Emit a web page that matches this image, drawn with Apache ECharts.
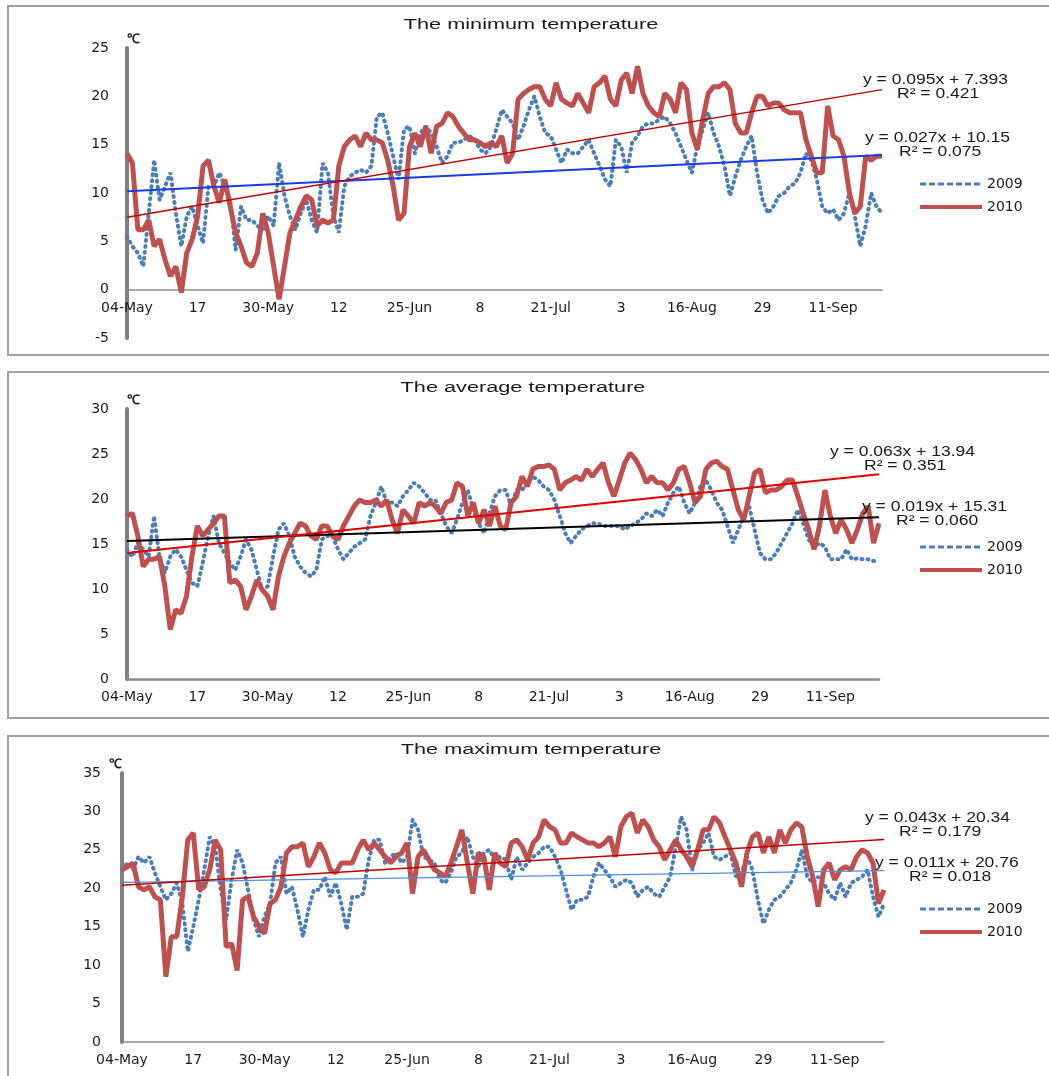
<!DOCTYPE html>
<html>
<head>
<meta charset="utf-8">
<script src="https://cdn.jsdelivr.net/npm/echarts@6/dist/echarts.min.js"></script>
<style>
html, body { margin: 0; padding: 0; background: #fff; }
#main { width: 1049px; height: 1076px; }
</style>
</head>
<body>
<div id="main"></div>
<script>
// x axis: one point per day, 04-May .. 20-Sep
var dayCount = 140;
var tickLabels = ['04-May', '17', '30-May', '12', '25-Jun', '8', '21-Jul', '3', '16-Aug', '29', '11-Sep'];
var days = [];
for (var d = 0; d < dayCount; d++) days.push(d);

// minimum temperature
var min2009 = [5.5, 4.5, 3.8, 2.4, 7.9, 13.4, 9.3, 10.7, 12.1, 7.9,
  4.5, 7.6, 8.6, 6.6, 4.8, 10.7, 10.7, 12.1, 10.7, 9.3,
  4.1, 8.6, 7.2, 7.2, 6.6, 6.2, 7.6, 6.6, 13.1, 9.7,
  7.6, 6.2, 7.9, 9.3, 7.2, 5.9, 13.1, 12.1, 7.6, 5.9,
  10.7, 11.7, 12.1, 12.4, 12.1, 12.8, 17.9, 18.3, 16.2, 13.8,
  11.4, 16.6, 16.9, 14.1, 16.2, 16.9, 16.2, 14.8, 13.1, 13.8,
  15.2, 15.2, 15.5, 15.9, 15.5, 14.5, 14.1, 14.8, 16.6, 18.6,
  17.9, 17.2, 15.5, 16.9, 18.6, 20.0, 17.9, 16.2, 15.9, 14.5,
  13.1, 14.5, 14.1, 14.1, 14.8, 15.5, 14.1, 12.8, 11.4, 10.7,
  15.5, 14.8, 12.1, 15.2, 15.9, 16.9, 17.2, 17.2, 17.6, 17.9,
  17.2, 16.2, 14.8, 13.4, 12.1, 14.8, 16.6, 18.3, 16.2, 14.8,
  12.8, 9.7, 11.7, 13.4, 14.8, 15.9, 12.1, 9.3, 7.9, 8.6,
  9.7, 10.0, 10.7, 11.0, 12.1, 14.1, 13.4, 11.4, 8.6, 7.9,
  8.3, 7.2, 7.9, 10.0, 7.6, 4.5, 6.6, 10.0, 8.6, 7.9];
var min2010 = [14.1, 13.1, 6.2, 6.2, 7.2, 4.5, 5.2, 3.1, 1.4, 2.4,
  -0.3, 3.8, 5.2, 7.6, 12.8, 13.4, 10.7, 9.0, 11.4, 8.6,
  5.9, 4.5, 2.8, 2.4, 3.8, 7.9, 5.9, 2.4, -1.0, 2.4,
  5.9, 7.2, 8.6, 9.7, 9.3, 6.6, 7.2, 6.9, 7.2, 12.8,
  14.8, 15.5, 15.9, 14.8, 16.2, 15.5, 15.5, 15.2, 13.4, 10.7,
  7.2, 7.9, 14.8, 16.2, 14.8, 16.9, 14.1, 16.9, 17.2, 18.3,
  17.9, 16.9, 16.2, 15.5, 15.5, 15.2, 14.8, 15.2, 14.8, 15.9,
  13.1, 14.1, 19.7, 20.3, 20.7, 21.0, 21.0, 19.7, 19.0, 21.4,
  19.7, 19.3, 19.0, 20.3, 19.3, 18.3, 21.0, 21.4, 22.1, 19.7,
  19.0, 21.7, 22.4, 20.3, 23.1, 20.3, 19.0, 18.3, 17.9, 20.3,
  19.7, 18.3, 21.4, 20.7, 16.2, 14.5, 17.6, 20.3, 21.0, 21.0,
  21.4, 20.7, 17.2, 16.2, 16.2, 18.3, 20.0, 20.0, 19.0, 19.3,
  19.3, 18.6, 18.3, 18.3, 18.3, 15.5, 13.8, 12.1, 12.1, 19.0,
  15.9, 15.5, 13.8, 10.0, 7.9, 8.6, 13.8, 13.4, 13.8, 13.8];

// average temperature
var avg2009 = [14.4, 13.6, 15.1, 14.4, 13.6, 18.1, 13.6, 11.8, 13.6, 14.4,
  13.6, 12.1, 10.7, 10.3, 12.9, 15.9, 18.1, 15.1, 14.0, 12.9,
  12.1, 13.6, 15.5, 14.4, 12.1, 9.9, 10.3, 13.6, 16.6, 17.3,
  15.9, 13.6, 12.5, 11.8, 11.4, 12.1, 15.5, 15.9, 15.9, 14.4,
  13.3, 14.0, 14.7, 15.1, 15.5, 18.1, 19.6, 21.4, 19.6, 19.6,
  19.2, 20.3, 21.0, 21.8, 21.4, 20.7, 19.9, 19.9, 18.4, 17.0,
  16.2, 17.7, 19.6, 21.0, 18.8, 17.3, 16.2, 18.4, 20.3, 21.0,
  21.0, 19.2, 21.0, 21.0, 21.8, 22.5, 22.1, 21.4, 21.0, 19.9,
  18.1, 16.2, 15.1, 15.9, 16.6, 17.0, 17.3, 17.3, 17.0, 17.0,
  17.0, 17.0, 16.6, 17.0, 17.3, 17.7, 18.4, 18.1, 18.8, 18.1,
  19.6, 20.7, 21.4, 19.6, 18.4, 19.6, 21.4, 22.1, 21.0, 19.6,
  18.8, 17.0, 15.1, 16.6, 18.1, 19.2, 16.6, 14.0, 13.3, 13.3,
  14.0, 15.1, 16.2, 17.3, 18.8, 17.3, 15.5, 14.7, 15.1, 14.7,
  13.3, 13.3, 13.3, 14.4, 13.3, 13.4, 13.3, 13.3, 13.1, 13.1];
var avg2010 = [18.1, 18.4, 15.9, 12.5, 13.3, 13.3, 13.6, 10.3, 5.5, 7.7,
  7.3, 9.2, 13.6, 17.0, 15.9, 16.6, 17.3, 18.1, 18.1, 10.7,
  11.0, 10.3, 7.7, 9.2, 11.0, 9.9, 9.2, 7.7, 11.4, 13.6,
  15.1, 16.2, 17.3, 17.0, 15.9, 15.5, 17.0, 17.0, 15.9, 15.5,
  17.0, 18.1, 19.2, 19.9, 19.6, 19.6, 19.9, 19.2, 19.9, 17.7,
  16.2, 18.8, 18.1, 17.3, 19.6, 19.2, 19.6, 19.2, 18.4, 19.6,
  19.9, 21.8, 21.4, 18.1, 19.6, 17.3, 18.8, 17.0, 19.2, 17.0,
  16.6, 19.6, 20.3, 22.5, 21.4, 23.3, 23.6, 23.6, 23.8, 23.3,
  21.0, 21.8, 22.1, 22.5, 22.1, 23.3, 22.5, 23.3, 24.0, 21.8,
  20.3, 22.1, 24.0, 25.1, 24.4, 23.3, 21.8, 22.5, 21.8, 21.8,
  21.0, 21.8, 23.3, 23.6, 21.8, 19.6, 20.3, 23.3, 24.0, 24.2,
  23.6, 23.3, 21.0, 18.8, 17.7, 20.3, 22.9, 23.3, 20.7, 21.0,
  21.0, 21.4, 22.1, 22.1, 20.3, 18.4, 16.6, 14.4, 17.0, 21.0,
  18.1, 16.2, 17.7, 16.6, 15.1, 16.6, 18.4, 19.2, 15.1, 17.3];

// maximum temperature
var max2009 = [22.4, 23.3, 22.4, 24.1, 23.3, 24.1, 22.0, 20.2, 18.5, 19.3,
  20.7, 18.0, 11.8, 15.0, 18.5, 22.4, 26.7, 25.4, 19.8, 15.9,
  21.1, 25.0, 23.3, 19.8, 15.9, 13.7, 16.3, 18.0, 23.3, 24.1,
  19.3, 20.2, 17.2, 13.7, 17.2, 19.8, 19.8, 21.5, 18.9, 20.7,
  18.0, 14.6, 18.9, 18.9, 19.3, 23.7, 26.3, 26.3, 23.3, 24.1,
  24.6, 23.3, 24.1, 28.9, 27.6, 24.1, 23.7, 23.3, 21.1, 20.7,
  22.0, 24.1, 24.6, 26.7, 24.1, 22.8, 24.6, 25.0, 23.7, 24.1,
  23.7, 21.1, 24.1, 22.4, 23.3, 24.1, 24.6, 25.4, 25.4, 24.1,
  22.4, 19.8, 17.2, 18.5, 18.5, 18.9, 21.5, 23.3, 22.4, 21.5,
  20.2, 20.7, 21.1, 20.7, 18.9, 19.8, 20.2, 19.3, 18.9, 20.2,
  21.5, 25.4, 29.3, 27.6, 22.4, 25.0, 25.9, 27.2, 24.1, 23.7,
  24.1, 24.6, 21.5, 22.0, 24.1, 22.4, 18.5, 15.4, 17.2, 18.5,
  18.9, 19.8, 20.7, 22.4, 25.0, 21.5, 20.7, 21.5, 20.7, 19.3,
  18.5, 20.7, 18.9, 20.7, 21.1, 21.5, 22.4, 18.9, 16.3, 18.0];
var max2010 = [22.4, 22.8, 23.3, 20.2, 19.8, 20.2, 18.9, 18.5, 8.5, 13.7,
  13.7, 18.9, 26.3, 27.2, 19.8, 20.2, 22.4, 26.3, 25.0, 12.4,
  12.8, 9.3, 18.5, 18.9, 16.3, 15.0, 14.1, 18.0, 18.5, 20.2,
  24.6, 25.4, 25.4, 25.9, 22.8, 24.1, 25.9, 24.6, 22.4, 22.0,
  23.3, 23.3, 23.3, 25.0, 26.3, 25.0, 25.9, 25.0, 24.1, 23.3,
  24.1, 24.6, 25.9, 19.3, 24.1, 25.0, 23.7, 22.4, 22.0, 21.5,
  23.3, 25.4, 27.6, 23.3, 19.3, 24.6, 24.1, 19.8, 24.6, 23.3,
  22.8, 25.9, 26.3, 25.4, 23.7, 25.9, 26.7, 28.9, 28.0, 27.6,
  25.9, 25.9, 27.2, 26.7, 26.3, 25.9, 25.9, 25.4, 25.9, 26.7,
  24.1, 28.0, 29.3, 29.8, 27.2, 28.9, 28.0, 26.3, 25.4, 23.7,
  25.0, 26.3, 25.0, 24.1, 22.8, 25.0, 27.6, 27.6, 29.3, 28.5,
  26.7, 25.0, 23.3, 20.2, 24.6, 26.7, 27.2, 24.6, 26.7, 24.6,
  27.6, 25.9, 27.6, 28.5, 28.0, 24.1, 21.5, 17.6, 22.4, 23.3,
  21.1, 22.4, 22.8, 22.4, 24.1, 25.0, 24.6, 23.3, 18.0, 19.8];

// linear trend lines as printed on the chart: [slope, intercept, R2]
var trendMin = { y2009: [0.027, 10.15, '0.075'], y2010: [0.095, 7.393, '0.421'] };
var trendAvg = { y2009: [0.019, 15.31, '0.060'], y2010: [0.063, 13.94, '0.351'] };
var trendMax = { y2009: [0.011, 20.76, '0.018'], y2010: [0.043, 20.34, '0.179'] };

var FONT = 'Liberation Sans, Arial, sans-serif';
var AXFONT = 'DejaVu Sans, Liberation Sans, sans-serif';
var BLUE = '#4a7ebb';
var RED = '#c0504d';

function trendData(t) {
  // excel numbers the days from 1
  return [[0, t[0] * 1 + t[1]], [dayCount - 1, t[0] * dayCount + t[1]]];
}

function xAxisFor(idx, off) {
  return {
    type: 'category', gridIndex: idx, data: days, boundaryGap: false,
    offset: off,
    axisLine: { onZero: false, lineStyle: { color: '#8c8c8c', width: idx == 1 ? 2.5 : 1.5 } },
    axisTick: { show: false },
    axisLabel: {
      interval: 0, margin: 11,
      color: '#1a1a1a', fontSize: 14, fontFamily: AXFONT,
      formatter: function (v, i) { return i % 13 === 0 ? (tickLabels[i / 13] || '') : ''; }
    },
    splitLine: { show: false }
  };
}

function yAxisFor(idx, mn, mx, nameAlign, margin) {
  return {
    type: 'value', gridIndex: idx, min: mn, max: mx, interval: 5,
    name: '℃', nameLocation: 'end', nameGap: 2,
    nameTextStyle: { color: '#1a1a1a', fontSize: 13, fontFamily: FONT, fontWeight: 'bold', align: nameAlign },
    axisLine: { show: true, lineStyle: { color: '#808080', width: 4 } },
    axisTick: { show: false },
    axisLabel: { margin: margin, color: '#1a1a1a', fontSize: 14, fontFamily: AXFONT },
    splitLine: { show: false }
  };
}

function dataSeries(idx, name, vals) {
  var is09 = name == '2009';
  return {
    name: name, type: 'line', xAxisIndex: idx, yAxisIndex: idx,
    data: vals, symbol: 'none', smooth: false, z: is09 ? 2 : 3,
    itemStyle: { color: is09 ? BLUE : RED },
    lineStyle: is09 ? { color: BLUE, width: 4, type: [1, 5], cap: 'round' }
                    : { color: RED, width: 5 }
  };
}

function trendSeries(idx, t, color, width) {
  return {
    type: 'line', xAxisIndex: idx, yAxisIndex: idx, data: trendData(t),
    symbol: 'none', silent: true, z: 5,
    lineStyle: { color: color, width: width }
  };
}

function legendFor(top) {
  return {
    orient: 'vertical', left: 918, top: top, padding: 0,
    itemWidth: 62, itemHeight: 12, itemGap: 9,
    textStyle: { color: '#1a1a1a', fontSize: 14, fontFamily: AXFONT },
    data: [
      { name: '2009', itemStyle: { opacity: 0 }, lineStyle: { type: [6, 3], width: 3, cap: 'butt' } },
      { name: '2010', itemStyle: { opacity: 0 }, lineStyle: { width: 4 } }
    ]
  };
}

function txt(x, y, s, size, align, sx) {
  return {
    type: 'text', x: x, y: y, scaleX: sx, silent: true, z: 10,
    style: { text: s, fill: '#1a1a1a', font: size + 'px ' + FONT, textAlign: align, textVerticalAlign: 'middle' }
  };
}

function eqText(x, y, t) {
  return [
    txt(x, y, 'y = ' + t[0] + 'x + ' + t[1], 14, 'left', 1.25),
    txt(x + 34, y + 14, 'R² = ' + t[2], 14, 'left', 1.25)
  ];
}

function panelBox(y, h) {
  return { type: 'rect', shape: { x: 8, y: y, width: 1060, height: h }, style: { fill: 'none', stroke: '#a0a0a0', lineWidth: 2 }, silent: true };
}

var option = {
  animation: false,
  backgroundColor: '#fff',
  legend: [legendFor(177), legendFor(540), legendFor(902)],
  grid: [
    { left: 127, right: 167, top: 48, bottom: 738 },
    { left: 127, right: 170, top: 409, bottom: 397 },
    { left: 122, right: 165, top: 773, bottom: 34 }
  ],
  // panel 1 has its category axis at 0 degrees, 5 units above the bottom of the plot
  xAxis: [xAxisFor(0, -48), xAxisFor(1, 0), xAxisFor(2, 0)],
  yAxis: [yAxisFor(0, -5, 25, 'left', 18), yAxisFor(1, 0, 30, 'left', 18), yAxisFor(2, 0, 35, 'right', 21)],
  series: [
    dataSeries(0, '2009', min2009),
    dataSeries(0, '2010', min2010),
    trendSeries(0, trendMin.y2009, '#1a3ce0', 2),
    trendSeries(0, trendMin.y2010, '#c00000', 1.5),
    dataSeries(1, '2009', avg2009),
    dataSeries(1, '2010', avg2010),
    trendSeries(1, trendAvg.y2009, '#000000', 2),
    trendSeries(1, trendAvg.y2010, '#e00000', 2),
    dataSeries(2, '2009', max2009),
    dataSeries(2, '2010', max2010),
    trendSeries(2, trendMax.y2009, '#4a90d9', 1.2),
    trendSeries(2, trendMax.y2010, '#c00000', 1.5)
  ],
  graphic: [panelBox(6, 349), panelBox(372, 346), panelBox(736, 360),
    txt(531, 25, 'The minimum temperature', 14, 'center', 1.55),
    txt(523, 388, 'The average temperature', 14, 'center', 1.55),
    txt(531, 750, 'The maximum temperature', 14, 'center', 1.55)]
    .concat(eqText(863, 80, trendMin.y2010))
    .concat(eqText(865, 138, trendMin.y2009))
    .concat(eqText(830, 452, trendAvg.y2010))
    .concat(eqText(862, 507, trendAvg.y2009))
    .concat(eqText(865, 818, trendMax.y2010))
    .concat(eqText(875, 863, trendMax.y2009))
};

var myChart = echarts.init(document.getElementById('main'));
myChart.setOption(option);
</script>
</body>
</html>
